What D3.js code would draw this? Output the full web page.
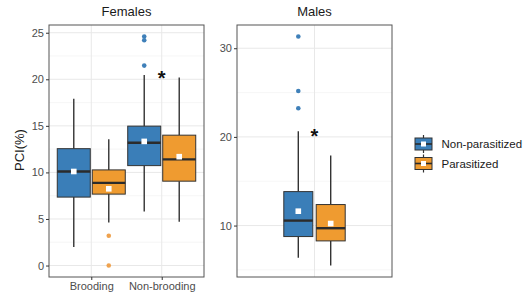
<!DOCTYPE html>
<html><head><meta charset="utf-8">
<script src="https://cdn.jsdelivr.net/npm/d3@7"></script>
<style>body{margin:0;background:#fff;overflow:hidden}svg{display:block;font-family:"Liberation Sans",Arial,sans-serif}</style>
</head><body><svg id="c" width="528" height="299"></svg>
<script>
// ---- data ----
const groups = ["Non-parasitized", "Parasitized"];
const femaleCats = ["Brooding", "Non-brooding"];
const maleCats = ["Non-brooding"];
// [lower whisker, Q1, median, Q3, upper whisker] per category
const femaleStatsNP = [[2.0, 7.35, 10.1, 12.55, 17.9], [5.8, 10.73, 13.19, 14.97, 20.46]];
const femaleStatsP  = [[4.63, 7.67, 8.88, 10.27, 13.55], [4.7, 9.06, 11.4, 14.0, 20.2]];
const femaleMeansNP = [10.1, 13.33];
const femaleMeansP  = [8.24, 11.69];
const femaleOutNP = [[], [24.6, 24.2, 21.47]];
const femaleOutP  = [[3.2, 0], []];
const femaleSig = [null, 20.6];
const maleStatsNP = [[6.36, 8.76, 10.56, 13.83, 20.63]];
const maleStatsP  = [[5.49, 8.27, 9.7, 12.37, 17.89]];
const maleMeansNP = [11.62];
const maleMeansP  = [10.23];
const maleOutNP = [[31.33, 25.18, 23.23]];
const maleOutP  = [[]];
const maleSig = [20.6];
const femaleTicks = [0, 5, 10, 15, 20, 25];
const maleTicks = [10, 20, 30];

const fills = ["#3A7EB8", "#EF9B30"];
const outCols = ["#3F80B9", "#EFA24E"];

const svg = d3.select("#c");
const pTop = 25, pBottom = 277;

function panel(cfg) {
  const g = svg.append("g");
  const all = [];
  [cfg.statsNP, cfg.statsP, cfg.outNP, cfg.outP].forEach(a => a.forEach(d => all.push(...d)));
  const ext = d3.extent(all), pad = (ext[1] - ext[0]) * 0.05;
  const y = d3.scaleLinear().domain([ext[0] - pad, ext[1] + pad]).range([pBottom, pTop]);
  const x = d3.scalePoint().domain(cfg.cats).range([cfg.x0, cfg.x1]).padding(0.6);
  // grid
  const minor = [];
  for (let i = 0; i < cfg.ticks.length + 1; i++) {
    const step = cfg.ticks[1] - cfg.ticks[0];
    minor.push(cfg.ticks[0] - step / 2 + i * step);
  }
  g.selectAll(".mn").data(minor.filter(v => y(v) > pTop && y(v) < pBottom)).join("line")
    .attr("x1", cfg.x0).attr("x2", cfg.x1).attr("y1", d => y(d)).attr("y2", d => y(d))
    .attr("stroke", "#f0f0f0").attr("stroke-width", 0.6);
  g.selectAll(".mj").data(cfg.ticks).join("line")
    .attr("x1", cfg.x0).attr("x2", cfg.x1).attr("y1", d => y(d)).attr("y2", d => y(d))
    .attr("stroke", "#e8e8e8").attr("stroke-width", 1);
  g.selectAll(".vg").data(cfg.cats).join("line")
    .attr("x1", d => x(d)).attr("x2", d => x(d)).attr("y1", pTop).attr("y2", pBottom)
    .attr("stroke", "#e8e8e8").attr("stroke-width", 1);
  // boxes
  const sets = [
    {stats: cfg.statsNP, means: cfg.meansNP, outs: cfg.outNP, gi: 0, off: -cfg.off},
    {stats: cfg.statsP, means: cfg.meansP, outs: cfg.outP, gi: 1, off: cfg.off}
  ];
  sets.forEach(s => {
    cfg.cats.forEach((c, i) => {
      const st = s.stats[i];
      const cx = x(c) + s.off, w = cfg.w;
      g.append("line").attr("x1", cx).attr("x2", cx).attr("y1", y(st[4])).attr("y2", y(st[3]))
        .attr("stroke", "#333").attr("stroke-width", 1.4);
      g.append("line").attr("x1", cx).attr("x2", cx).attr("y1", y(st[1])).attr("y2", y(st[0]))
        .attr("stroke", "#333").attr("stroke-width", 1.4);
      g.append("rect").attr("x", cx - w / 2).attr("width", w).attr("y", y(st[3])).attr("height", y(st[1]) - y(st[3]))
        .attr("fill", fills[s.gi]).attr("stroke", "#333").attr("stroke-width", 1);
      g.append("line").attr("x1", cx - w / 2).attr("x2", cx + w / 2).attr("y1", y(st[2])).attr("y2", y(st[2]))
        .attr("stroke", "#2b2b2b").attr("stroke-width", 2.4);
      s.outs[i].forEach(v => g.append("circle").attr("cx", cx).attr("cy", y(v)).attr("r", 2.3).attr("fill", outCols[s.gi]));
      g.append("rect").attr("x", cx - 2.8).attr("y", y(s.means[i]) - 2.8).attr("width", 5.6).attr("height", 5.6).attr("fill", "#fff");
    });
  });
  // significance
  cfg.cats.forEach((c, i) => {
    if (cfg.sig[i] != null)
      g.append("text").attr("x", x(c)).attr("y", y(cfg.sig[i]) + 11).attr("text-anchor", "middle")
        .attr("font-size", 20).attr("font-weight", "bold").attr("fill", "#111").text("*");
  });
  // border
  g.append("rect").attr("x", cfg.x0).attr("y", pTop).attr("width", cfg.x1 - cfg.x0).attr("height", pBottom - pTop)
    .attr("fill", "none").attr("stroke", "#555").attr("stroke-width", 1);
  // y axis
  const ya = d3.axisLeft(y).tickValues(cfg.ticks).tickSize(3).tickPadding(2);
  const ag = g.append("g").attr("transform", `translate(${cfg.x0},0)`).call(ya);
  ag.select(".domain").remove();
  ag.selectAll("line").attr("stroke", "#333");
  ag.selectAll("text").attr("font-size", 11).attr("fill", "#4d4d4d").attr("font-family", "Liberation Sans, Arial, sans-serif");
  if (cfg.xlabels) {
    const xa = d3.axisBottom(x).tickSize(3).tickPadding(2);
    const xg = g.append("g").attr("transform", `translate(0,${pBottom})`).call(xa);
    xg.select(".domain").remove();
    xg.selectAll("line").attr("stroke", "#333");
    xg.selectAll("text").attr("font-size", 11).attr("fill", "#4d4d4d").attr("font-family", "Liberation Sans, Arial, sans-serif");
  }
  g.append("text").attr("x", (cfg.x0 + cfg.x1) / 2).attr("y", 15.5).attr("text-anchor", "middle")
    .attr("font-size", 13).attr("fill", "#1a1a1a").text(cfg.title);
}

panel({title: "Females", cats: femaleCats, x0: 49, x1: 204, off: 17.5, w: 33, ticks: femaleTicks,
  statsNP: femaleStatsNP, statsP: femaleStatsP, meansNP: femaleMeansNP, meansP: femaleMeansP,
  outNP: femaleOutNP, outP: femaleOutP, sig: femaleSig, xlabels: true});
panel({title: "Males", cats: maleCats, x0: 237, x1: 392, off: 16.2, w: 29, ticks: maleTicks,
  statsNP: maleStatsNP, statsP: maleStatsP, meansNP: maleMeansNP, meansP: maleMeansP,
  outNP: maleOutNP, outP: maleOutP, sig: maleSig, xlabels: false});

// y label
svg.append("text").attr("transform", "translate(24,150) rotate(-90)").attr("text-anchor", "middle")
  .attr("font-size", 13).attr("fill", "#1a1a1a").text("PCI(%)");

// legend
const lg = svg.append("g");
groups.forEach((gname, i) => {
  const cy = 144 + i * 19.5, kx = 415, kw = 17;
  lg.append("line").attr("x1", kx + kw / 2).attr("x2", kx + kw / 2).attr("y1", cy - 9).attr("y2", cy + 9)
    .attr("stroke", "#333").attr("stroke-width", 1.2);
  lg.append("rect").attr("x", kx).attr("y", cy - 6).attr("width", kw).attr("height", 12)
    .attr("fill", fills[i]).attr("stroke", "#333").attr("stroke-width", 1);
  lg.append("line").attr("x1", kx).attr("x2", kx + kw).attr("y1", cy).attr("y2", cy)
    .attr("stroke", "#2b2b2b").attr("stroke-width", 1.6);
  lg.append("rect").attr("x", kx + kw / 2 - 2.5).attr("y", cy - 2.5).attr("width", 5).attr("height", 5).attr("fill", "#fff");
  lg.append("text").attr("x", 441.5).attr("y", cy + 4).attr("font-size", 11.5).attr("fill", "#1a1a1a").text(gname);
});
</script></body></html>
